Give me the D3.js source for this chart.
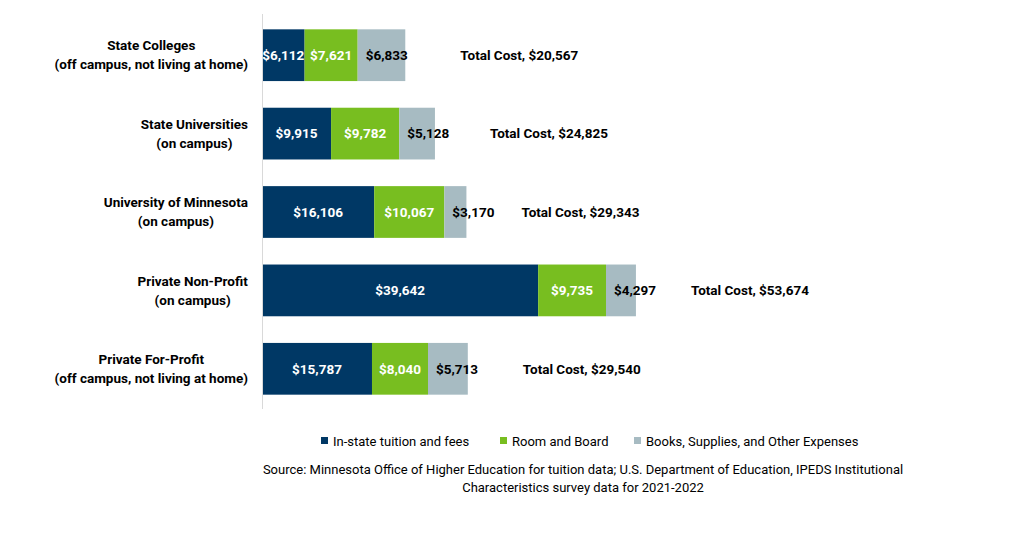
<!DOCTYPE html>
<html>
<head>
<meta charset="utf-8">
<script src="https://cdn.jsdelivr.net/npm/d3@7"></script>
<style>
  body { margin: 0; background: #fff; }
  text { font-family: Roboto, "Noto Sans", sans-serif; }
</style>
</head>
<body>
<svg id="chart" width="1036" height="540"></svg>
<script>
const categories = [
  ["State Colleges", "(off campus, not living at home)"],
  ["State Universities", "(on campus)"],
  ["University of Minnesota", "(on campus)"],
  ["Private Non-Profit", "(on campus)"],
  ["Private For-Profit", "(off campus, not living at home)"]
]
const seriesNames = ["In-state tuition and fees", "Room and Board", "Books, Supplies, and Other Expenses"]
const tuition = [6112, 9915, 16106, 39642, 15787]
const roomBoard = [7621, 9782, 10067, 9735, 8040]
const books = [6833, 5128, 3170, 4297, 5713]
const totals = [20567, 24825, 29343, 53674, 29540]
const sourceLines = [
  "Source: Minnesota Office of Higher Education for tuition data; U.S. Department of Education, IPEDS Institutional",
  "Characteristics survey data for 2021-2022"
]

const colors = ["#003865", "#78be20", "#a7bbc2"]
const labelColors = ["#fff", "#fff", "#000"]

const svg = d3.select("#chart")
const fmt = d => "$" + d3.format(",")(d)

const rows = categories.map((c, i) => ({ key: c[0], lines: c, vals: [tuition[i], roomBoard[i], books[i]], total: totals[i] }))

const x = d3.scaleLinear().domain([0, 60000]).range([262, 680])
const y = d3.scaleBand().domain(rows.map(d => d.key)).range([16, 408]).paddingInner(0.34).paddingOuter(0.17)

const stack = d3.stack().keys([0, 1, 2]).value((d, k) => d.vals[k])
const layers = stack(rows)

const g = svg.append("g")
layers.forEach((layer, k) => {
  const lg = g.append("g").attr("class", "series-" + k)
  lg.selectAll("rect")
    .data(layer)
    .enter()
    .append("rect")
    .attr("x", d => x(d[0]))
    .attr("width", d => x(d[1]) - x(d[0]))
    .attr("y", d => y(d.data.key))
    .attr("height", y.bandwidth())
    .attr("fill", colors[k])
  // the last series' labels sit near the segment start and spill past the bar
  const last = k === layers.length - 1
  lg.selectAll("text")
    .data(layer)
    .enter()
    .append("text")
    .attr("x", d => last ? x(d[0]) + 8 : (x(d[0]) + x(d[1])) / 2)
    .attr("y", d => y(d.data.key) + y.bandwidth() / 2)
    .attr("dy", "0.35em")
    .attr("text-anchor", last ? "start" : "middle")
    .attr("fill", labelColors[k])
    .style("font-size", "13.5px")
    .style("font-weight", "bold")
    .text(d => fmt(d.data.vals[k]))
})

// total labels
g.selectAll(".total")
  .data(rows)
  .enter()
  .append("text")
  .attr("class", "total")
  .attr("x", d => x(d.total) + 55)
  .attr("y", d => y(d.key) + y.bandwidth() / 2)
  .attr("dy", "0.35em")
  .style("font-size", "13.5px")
  .style("font-weight", "bold")
  .text(d => "Total Cost, " + fmt(d.total))

// axis line
svg.append("line")
  .attr("x1", 262.5).attr("x2", 262.5)
  .attr("y1", 14).attr("y2", 409)
  .attr("stroke", "#d9d9d9")

// category labels
const cat = svg.selectAll(".cat")
  .data(rows)
  .enter()
  .append("text")
  .attr("class", "cat")
  .attr("text-anchor", "middle")
  .style("font-size", "13.5px")
  .style("font-weight", "bold")
cat.each(function(d) {
  const t = d3.select(this)
  const cy = y(d.key) + y.bandwidth() / 2
  d.lines.forEach((ln, i) => {
    t.append("tspan")
      .attr("x", 0)
      .attr("y", cy + (i - 0.5) * 19)
      .attr("dy", "0.35em")
      .text(ln)
  })
})
// right-align the block, each line centred within it
cat.each(function() {
  const bb = this.getBBox()
  const shift = 248 - bb.width / 2
  d3.select(this).selectAll("tspan").attr("x", shift)
})

// legend
const legendX = [321, 500, 634]
const legend = svg.append("g")
seriesNames.forEach((name, k) => {
  legend.append("rect").attr("x", legendX[k]).attr("y", 437).attr("width", 7).attr("height", 7).attr("fill", colors[k])
  legend.append("text").attr("x", legendX[k] + 12).attr("y", 441).attr("dy", "0.35em")
    .style("font-size", "13px").attr("fill", "#000").text(name)
})

// source
sourceLines.forEach((ln, i) => {
  svg.append("text")
    .attr("x", 583).attr("y", 469 + i * 18).attr("dy", "0.35em")
    .attr("text-anchor", "middle")
    .style("font-size", "13px")
    .text(ln)
})
</script>
</body>
</html>
